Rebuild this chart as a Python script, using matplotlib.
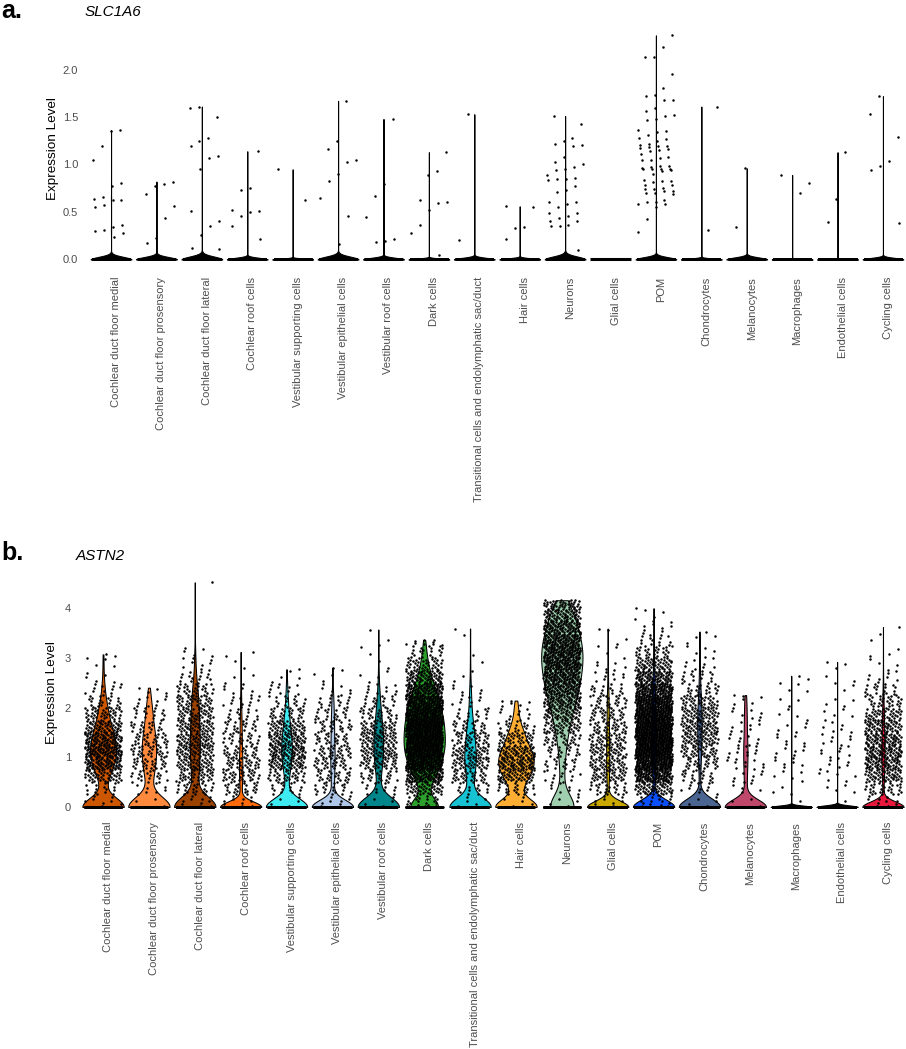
import matplotlib

matplotlib.use('Agg')
import matplotlib.pyplot as plt
import matplotlib.transforms as mtransforms
import numpy as np

plt.rcParams['font.family'] = ['Liberation Sans', 'DejaVu Sans']

# Кластеры клеток (одинаковые для обеих панелей)
cell_types = [
    'Cochlear duct floor medial', 'Cochlear duct floor prosensory', 'Cochlear duct floor lateral',
    'Cochlear roof cells', 'Vestibular supporting cells', 'Vestibular epithelial cells',
    'Vestibular roof cells', 'Dark cells', 'Transitional cells and endolymphatic sac/duct',
    'Hair cells', 'Neurons', 'Glial cells', 'POM', 'Chondrocytes', 'Melanocytes',
    'Macrophages', 'Endothelial cells', 'Cycling cells',
]
type_colors = [
    '#CD5700', '#FF8A3D', '#9C4200', '#FF6A0A', '#3EEBF0', '#AEC7E8',
    '#00868B', '#2CA02C', '#17C3D2', '#FFAE34', '#9FCFAE', '#C9A800',
    '#0A50FF', '#4A6592', '#C0486A', 'black', 'black', '#E8193C',
]
# всего клеток в кластере (нули скрыты в чёрной полосе у 0)
cell_counts = [735, 340, 870, 690, 820, 650, 670, 1740, 525, 420,
               1225, 1055, 4770, 1160, 210, 4000, 4000, 1580]

# SLC1A6: ненулевые значения экспрессии (по точкам)
slc1a6_values = [
    [1.36, 1.35, 1.19, 1.05, 0.81, 0.77, 0.66, 0.64, 0.63, 0.63, 0.57, 0.55, 0.36, 0.34, 0.31, 0.30, 0.28, 0.24],
    [0.82, 0.79, 0.77, 0.69, 0.56, 0.44, 0.23, 0.17],
    [1.61, 1.59, 1.50, 1.28, 1.25, 1.19, 1.09, 1.07, 0.95, 0.51, 0.41, 0.35, 0.26, 0.12, 0.11],
    [1.14, 0.75, 0.73, 0.52, 0.51, 0.50, 0.46, 0.35, 0.22],
    [0.95, 0.63],
    [1.67, 1.25, 1.16, 1.05, 1.03, 0.90, 0.83, 0.65, 0.46, 0.16],
    [1.48, 0.79, 0.67, 0.45, 0.22, 0.19, 0.18],
    [1.13, 0.93, 0.89, 0.63, 0.61, 0.59, 0.52, 0.36, 0.28, 0.05],
    [1.53, 0.21],
    [0.56, 0.55, 0.34, 0.33, 0.22],
    [1.51, 1.43, 1.28, 1.25, 1.22, 1.21, 1.19, 1.08, 1.03, 1.00, 0.97, 0.95, 0.94, 0.89, 0.86, 0.85,
     0.85, 0.84, 0.77, 0.73, 0.71, 0.61, 0.61, 0.58, 0.55, 0.49, 0.49, 0.46, 0.44, 0.41, 0.40, 0.36,
     0.35, 0.35, 0.10],
    [],
    [2.36, 2.24, 2.13, 2.13, 1.95, 1.81, 1.73, 1.72, 1.68, 1.68, 1.59, 1.56, 1.52, 1.51, 1.48, 1.47,
     1.36, 1.35, 1.34, 1.31, 1.28, 1.27, 1.25, 1.22, 1.21, 1.19, 1.19, 1.18, 1.17, 1.16, 1.15, 1.14,
     1.11, 1.08, 1.07, 1.05, 1.05, 0.98, 0.98, 0.97, 0.96, 0.95, 0.95, 0.95, 0.95, 0.94, 0.93, 0.90,
     0.84, 0.83, 0.83, 0.82, 0.78, 0.78, 0.75, 0.74, 0.74, 0.72, 0.72, 0.70, 0.70, 0.69, 0.63, 0.61,
     0.61, 0.58, 0.58, 0.55, 0.43, 0.29],
    [1.61, 0.31],
    [0.96, 0.34],
    [0.89, 0.81, 0.70],
    [1.13, 0.64, 0.39],
    [1.72, 1.53, 1.29, 1.04, 0.98, 0.94, 0.38],
]

# ASTN2: число клеток по интервалам 0.25 (от 0) и максимум в каждом кластере
astn2_bin_width = 0.25
astn2_bin_counts = [
    [8, 15, 45, 85, 100, 85, 60, 40, 22, 12, 5, 3, 2],
    [3, 8, 20, 30, 32, 28, 22, 16, 9, 3],
    [10, 25, 40, 50, 55, 55, 50, 45, 40, 30, 15, 8, 5],
    [10, 25, 35, 35, 30, 25, 20, 15, 12, 7, 3, 2, 1],
    [5, 15, 35, 60, 75, 65, 50, 30, 18, 10, 4],
    [8, 20, 28, 32, 32, 28, 25, 20, 15, 8, 3, 1],
    [5, 12, 25, 40, 50, 50, 40, 28, 18, 10, 4, 2, 2, 2],
    [20, 50, 110, 170, 200, 210, 200, 180, 150, 110, 70, 40, 20, 8],
    [5, 15, 35, 45, 45, 35, 25, 15, 10, 6, 3, 1, 1, 1],
    [5, 25, 55, 75, 65, 40, 20, 10, 5],
    [5, 8, 12, 18, 22, 30, 45, 60, 80, 100, 115, 125, 125, 115, 95, 70, 40],
    [8, 25, 40, 45, 45, 40, 35, 30, 25, 18, 10, 6, 3, 2, 1],
    [15, 60, 130, 190, 220, 230, 220, 200, 170, 130, 90, 55, 30, 15, 8, 4],
    [5, 10, 20, 30, 40, 50, 55, 50, 40, 25, 15, 8, 5, 3],
    [3, 5, 8, 10, 10, 9, 8, 7, 5],
    [1, 3, 5, 6, 7, 6, 5, 4, 3, 3, 2],
    [2, 4, 6, 7, 7, 7, 6, 5, 4, 3, 2, 2],
    [10, 30, 55, 70, 75, 70, 60, 45, 30, 18, 8, 4, 3, 2],
]
astn2_max = [3.07, 2.40, 4.52, 3.12, 2.77, 2.80, 3.57, 3.36, 3.59, 2.14,
             4.16, 3.59, 4.00, 3.53, 2.25, 2.64, 2.92, 3.62]

W, H = 906, 1049
# квазислучайная последовательность R2 для разброса точек
R2_A1 = 1 / 1.32471795724
R2_A2 = 1 / 1.32471795724 ** 2


def nrd0(kde):
    """Полоса пропускания как bw.nrd0 в R (делённая на sd для mlab.GaussianKDE)"""
    x = kde.dataset.ravel()
    sd = x.std(ddof=1)
    q75, q25 = np.percentile(x, [75, 25])
    lo = min(sd, (q75 - q25) / 1.34)
    if lo <= 0:
        lo = sd
    return 0.9 * lo * len(x) ** -0.2 / sd


def jitter(n, start=0):
    return (((np.arange(n) + start) * R2_A1 + 0.5) % 1.0 - 0.5) * 0.8


def binned_values(counts, top):
    vals = []
    g = 0
    for j, k in enumerate(counts):
        lo = j * astn2_bin_width
        hi = min(lo + astn2_bin_width, top)
        frac = ((np.arange(k) + g) * R2_A2 + 0.5) % 1.0
        vals.extend(lo + frac * (hi - lo))
        g += k
    vals.append(top)
    return np.array(vals)


def vln_panel(ax, expr, ticks, ticklabels, label_pad, ypad, fills):
    positions = np.arange(1, len(cell_types) + 1)
    full = [np.concatenate([np.zeros(n - len(v)), v]) for v, n in zip(expr, cell_counts)]
    top = max(d.max() for d in full)

    idx = [i for i, d in enumerate(full) if d.max() > 0]
    parts = ax.violinplot([full[i] for i in idx], positions=positions[idx], widths=0.9,
                          showextrema=False, points=512, bw_method=nrd0)
    for body, i in zip(parts['bodies'], idx):
        body.set_facecolor(fills[i])
        body.set_edgecolor('black')
        body.set_linewidth(0.75)
        body.set_alpha(1)
        body.set_zorder(2)
    for i, d in enumerate(full):
        if d.max() == 0:
            ax.hlines(0, positions[i] - 0.45, positions[i] + 0.45, color='black', lw=2.2, zorder=2)

    start = 0
    for i, d in enumerate(full):
        ax.scatter(positions[i] + jitter(len(d), start), d, s=3.2, c='black',
                   linewidths=0, zorder=3)
        start += len(d)

    ax.set_xlim(0.4, len(cell_types) + 0.6)
    ax.set_ylim(-0.05 * top, 1.05 * top)
    ax.set_yticks(ticks)
    ax.set_yticklabels(ticklabels)
    ax.set_xticks(positions)
    ax.set_xticklabels(cell_types, rotation=90)
    ax.tick_params(axis='x', length=0, pad=label_pad, labelsize=8, labelcolor='#4D4D4D')
    ax.tick_params(axis='y', length=0, pad=ypad, labelsize=8, labelcolor='#4D4D4D')
    shift = mtransforms.ScaledTranslation(0.05, 0, ax.figure.dpi_scale_trans)
    for lab in ax.get_xticklabels():
        lab.set_transform(lab.get_transform() + shift)
    for s in ax.spines.values():
        s.set_visible(False)


fig = plt.figure(figsize=(W / 100, H / 100), dpi=100)

# в SLC1A6 почти все клетки нулевые: скрипки сплющены в чёрную полосу
ax_a = fig.add_axes([83.8 / W, 1 - 270.7 / H, 826.4 / W, 246.6 / H])
vln_panel(ax_a, [np.array(v) for v in slc1a6_values],
          [0, 0.5, 1.0, 1.5, 2.0], ['0.0', '0.5', '1.0', '1.5', '2.0'], 4.5, 4,
          ['black'] * len(cell_types))

ax_b = fig.add_axes([75.5 / W, 1 - 818.2 / H, 835 / W, 247.1 / H])
vln_panel(ax_b, [binned_values(c, m) for c, m in zip(astn2_bin_counts, astn2_max)],
          [0, 1, 2, 3, 4], ['0', '1', '2', '3', '4'], 2.7, 3.2, type_colors)

# подписи панелей
fig.text(1 / W, 1 - 18.5 / H, 'a.', fontsize=18, fontweight='bold', va='baseline')
fig.text(85 / W, 1 - 15.7 / H, 'SLC1A6', fontsize=11, style='italic', va='baseline')
fig.text(1 / W, 1 - 560 / H, 'b.', fontsize=18, fontweight='bold', va='baseline')
fig.text(76 / W, 1 - 560.5 / H, 'ASTN2', fontsize=11, style='italic', va='baseline')
fig.text(53 / W, 1 - 148.5 / H, 'Expression Level', rotation=90, fontsize=9.7,
         ha='center', va='center')
fig.text(52.5 / W, 1 - 693 / H, 'Expression Level', rotation=90, fontsize=9.7,
         ha='center', va='center')

fig.savefig('out.png', dpi=100)
plt.close(fig)
